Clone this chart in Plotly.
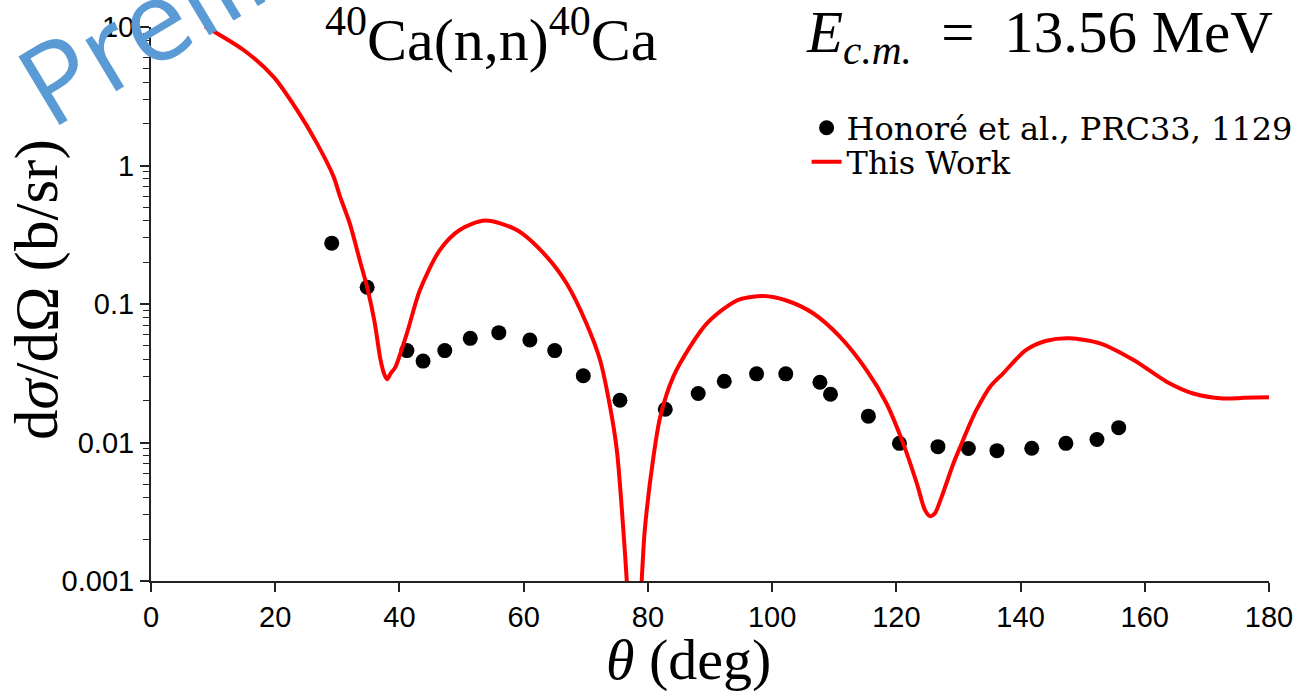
import plotly.graph_objects as go

# Measured elastic cross sections (Honoré et al.)
theta_exp = [29.1, 34.8, 41.2, 43.8, 47.3, 51.4, 56.0, 61.0, 65.0, 69.6, 75.5,
             82.8, 88.1, 92.3, 97.5, 102.2, 107.7, 109.4, 115.5, 120.5, 126.7,
             131.6, 136.2, 141.8, 147.3, 152.3, 155.8]
xs_exp = [0.275, 0.132, 0.0461, 0.0387, 0.0461, 0.0565, 0.0621, 0.0549, 0.0461,
          0.0303, 0.0202, 0.0174, 0.0226, 0.0277, 0.0313, 0.0313, 0.0272, 0.0223,
          0.0155, 0.00986, 0.00933, 0.00904, 0.00873, 0.00908, 0.00986, 0.0105,
          0.0128]

# Calculated angular distribution (this work)
theta_calc = [8.7, 14.9, 19.7, 23.5, 26.7, 29.4, 30.4, 32.0, 33.6, 34.8, 36.0,
              36.9, 37.5, 38.0, 38.6, 39.3, 41.2, 43.3, 46.5, 49.7, 53.8, 58.9,
              63.7, 66.9, 70.1, 72.3, 73.9, 75.0, 76.0, 76.6, 77.8, 79.0, 79.5,
              80.9, 82.0, 84.1, 86.8, 89.5, 92.7, 94.8, 98.6, 102.3, 106.6, 110.9,
              115.2, 118.4, 121.1, 123.3, 124.6, 125.4, 126.2, 127.3, 129.2, 130.3,
              131.9, 132.9, 135.1, 137.2, 140.9, 144.2, 147.9, 152.8, 158.2, 163.5,
              167.8, 172.6, 176.0, 180.0]
xs_calc = [10.1, 6.82, 4.38, 2.52, 1.45, 0.830, 0.603, 0.382, 0.208, 0.132, 0.0741,
           0.0407, 0.0316, 0.0286, 0.0316, 0.0347, 0.0614, 0.126, 0.245, 0.342,
           0.400, 0.342, 0.220, 0.141, 0.0724, 0.0394, 0.0182, 0.00883, 0.00251,
           0.00100, 0.0001, 0.00100, 0.00233, 0.00791, 0.0154, 0.0299, 0.0492,
           0.0724, 0.0957, 0.108, 0.114, 0.106, 0.0857, 0.0581, 0.0333, 0.0192,
           0.00986, 0.00507, 0.00326, 0.00294, 0.00308, 0.00406, 0.00708, 0.00933,
           0.0138, 0.0172, 0.0253, 0.0316, 0.0466, 0.0543, 0.0565, 0.0520, 0.0394,
           0.0275, 0.0226, 0.0208, 0.0210, 0.0212]

x_ticks = [0, 20, 40, 60, 80, 100, 120, 140, 160, 180]
y_tickvals = [0.001, 0.01, 0.1, 1, 10]
y_ticktext = ["0.001", "0.01", "0.1", "1", "10"]

AXIS = "#222222"
SERIF = "Liberation Serif"
SANS = "Liberation Sans"
LEGEND_FONT = dict(family="DejaVu Serif", size=32, color="black")

fig = go.Figure()
fig.add_trace(go.Scatter(
    x=theta_exp, y=xs_exp, mode="markers", name="Honoré et al., PRC33, 1129",
    marker=dict(color="black", size=15, line=dict(width=0)), legend="legend",
))
fig.add_trace(go.Scatter(
    x=theta_calc, y=xs_calc, mode="lines", name="This Work",
    line=dict(color="#ff0000", width=4, shape="spline", smoothing=0.8),
    legend="legend2",
))

fig.update_layout(
    width=1305, height=692, autosize=False,
    margin=dict(l=151, r=36, t=27, b=111, autoexpand=False),
    plot_bgcolor="white", paper_bgcolor="white",
    showlegend=True,
    legend=dict(
        x=0.5864, y=0.8177, xanchor="left", yanchor="middle",
        font=LEGEND_FONT, bgcolor="rgba(0,0,0,0)", borderwidth=0,
    ),
    legend2=dict(
        x=0.5864, y=0.7563, xanchor="left", yanchor="middle",
        font=LEGEND_FONT, bgcolor="rgba(0,0,0,0)", borderwidth=0,
    ),
    xaxis=dict(
        range=[0, 180], tickvals=x_ticks, ticks="outside", ticklen=9,
        tickwidth=1.5, tickcolor=AXIS, showline=True, linecolor=AXIS,
        linewidth=2, showgrid=False, zeroline=False, mirror=False,
        tickfont=dict(family=SANS, size=29, color="black"),
    ),
    yaxis=dict(
        type="log", range=[-3, 1], tickvals=y_tickvals, ticktext=y_ticktext,
        ticks="outside", ticklen=9, tickwidth=1.5, tickcolor=AXIS,
        showline=True, linecolor=AXIS, linewidth=2, showgrid=False,
        zeroline=False, mirror=False,
        tickfont=dict(family=SANS, size=29, color="black"),
        minor=dict(ticks="outside", ticklen=6, tickwidth=1.2, tickcolor=AXIS,
                   dtick="D1", showgrid=False),
    ),
    annotations=[
        dict(text="<sup>40</sup>Ca(n,n)<sup>40</sup>Ca", xref="paper", yref="paper",
             x=0.304, y=0.913, xanchor="center", yanchor="bottom", showarrow=False,
             font=dict(family=SERIF, size=60, color="black")),
        dict(text="<i>E</i><sub><i>c.m.</i></sub>  =  13.56 MeV", xref="paper", yref="paper",
             x=0.795, y=0.913, xanchor="center", yanchor="bottom", showarrow=False,
             font=dict(family=SERIF, size=59, color="black")),
        dict(text="<i>θ</i> (deg)", xref="paper", yref="paper",
             x=0.481, y=-0.141, xanchor="center", yanchor="middle", showarrow=False,
             font=dict(family=SERIF, size=58, color="black")),
        dict(text="d<i>σ</i>/dΩ (b/sr)", xref="paper", yref="paper", textangle=-90,
             x=-0.102, y=0.527, xanchor="center", yanchor="middle", showarrow=False,
             font=dict(family=SERIF, size=61, color="black")),
        dict(text="Preliminary", xref="paper", yref="paper", textangle=-31,
             x=0.1191, y=1.1581, xanchor="center", yanchor="middle", showarrow=False,
             font=dict(family="Open Sans", size=112, color="#5b9bd5")),
    ],
)

fig.write_html("out.html")
